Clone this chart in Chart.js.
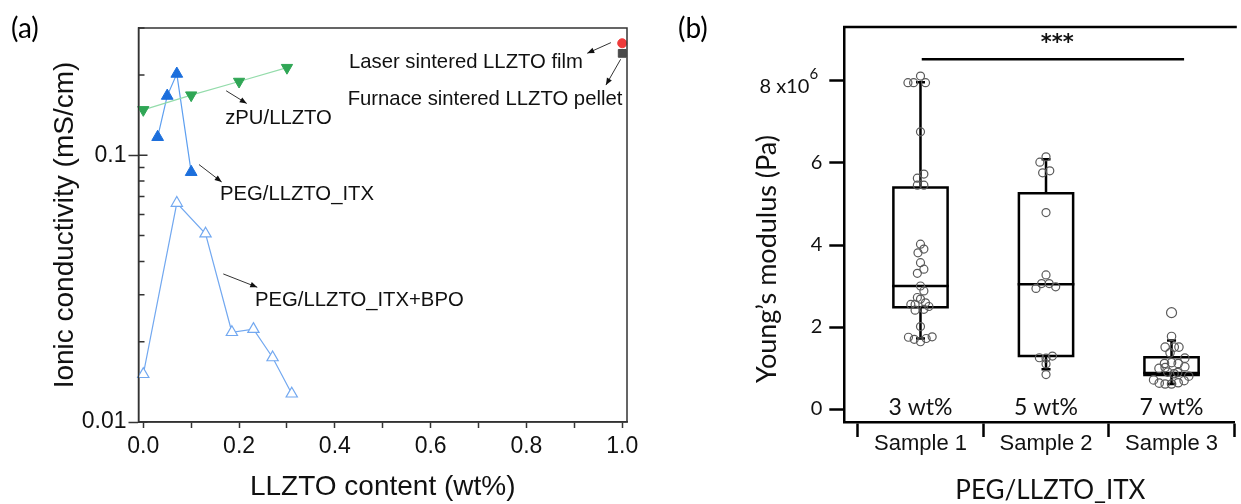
<!DOCTYPE html>
<html><head><meta charset="utf-8">
<script src="https://cdn.jsdelivr.net/npm/chart.js@4"></script>
<style>
html,body{margin:0;padding:0;background:#fff;overflow:hidden;width:1241px;height:504px}
#ca{position:absolute;left:0;top:0}
#cb{position:absolute;left:640px;top:0}
</style></head><body>
<canvas id="ca" width="640" height="504"></canvas>
<canvas id="cb" width="601" height="504"></canvas>
<script>
// ---------- Panel (a) data ----------
const zpuX = [0, 0.1, 0.2, 0.3];
const zpuY = [0.148, 0.168, 0.189, 0.213];
const itxX = [0.03, 0.05, 0.07, 0.10];
const itxY = [0.117, 0.167, 0.202, 0.0865];
const bpoX = [0, 0.07, 0.13, 0.185, 0.23, 0.27, 0.31];
const bpoY = [0.0151, 0.0662, 0.0508, 0.0217, 0.0223, 0.01745, 0.01276];
const laserX = [1.0];
const laserY = [0.263];
const furnaceX = [1.0];
const furnaceY = [0.241];
const xTicksA = [0, 0.1, 0.2, 0.3, 0.4, 0.5, 0.6, 0.7, 0.8, 0.9, 1.0];
const yLabelTicksA = [0.01, 0.1];
const yMinorA = [0.02, 0.03, 0.04, 0.05, 0.06, 0.07, 0.08, 0.09, 0.2, 0.3];
const seriesNamesA = ['zPU/LLZTO', 'PEG/LLZTO_ITX', 'PEG/LLZTO_ITX+BPO', 'Laser sintered LLZTO film', 'Furnace sintered LLZTO pellet'];

// ---------- Panel (b) data ----------
const sampleLabels = ['Sample 1', 'Sample 2', 'Sample 3'];
const loadLabels = ['3 wt%', '5 wt%', '7 wt%'];
const whiskerLow = [1.72, 0.97, 0.61];
const q1 = [2.48, 1.29, 0.83];
const median = [3.00, 3.04, 0.88];
const q3 = [5.40, 5.26, 1.26];
const whiskerHigh = [7.97, 6.09, 1.67];
const sample1X = [0.90,0.945,1.00,1.04,1.00,0.975,1.027,0.975,1.027,1.00,1.027,0.98,1.00,1.027,0.975,1.00,1.027,0.975,1.00,0.923,0.957,1.04,1.067,0.957,1.027,1.00,0.904,0.95,1.00,1.045,1.093];
const sample1Y = [7.96,7.96,8.12,7.96,6.76,5.63,5.73,5.46,5.46,4.02,3.90,3.81,3.57,3.41,3.31,3.00,2.88,2.72,2.68,2.55,2.55,2.59,2.50,2.41,2.43,2.01,1.75,1.70,1.64,1.72,1.76];
const sample2X = [2.00,1.951,2.03,1.973,2.00,2.00,1.965,2.025,1.92,2.077,1.947,2.00,2.051,2.00,2.00];
const sample2Y = [6.15,6.02,5.81,5.76,4.79,3.27,3.06,3.06,2.94,2.98,1.25,1.24,1.29,1.10,0.84];
const sample3X = [3.00,3.00,2.949,3.022,3.059,2.988,3.106,2.944,3.00,3.053,2.90,2.949,3.106,3.049,3.137,2.857,2.902,2.949,3.00,3.053,3.10,2.97,3.02];
const sample3Y = [2.35,1.77,1.51,1.51,1.51,1.37,1.24,1.11,1.13,1.11,0.99,1.01,1.03,0.89,0.80,0.71,0.63,0.61,0.61,0.64,0.69,0.90,0.86];
const yTicksB = [0, 2, 4, 6, 8];
const xTicksB = [0.5, 1, 1.5, 2, 2.5, 3, 3.5];
const sigFrom = 1.01, sigTo = 3.1, sigLevel = 8.53, sigText = '***';

// ---------- helpers ----------
const pts = (xs, ys) => xs.map((x, i) => ({x, y: ys[i]}));
function arrow(ctx, x1, y1, x2, y2) {
  ctx.beginPath(); ctx.moveTo(x1, y1); ctx.lineTo(x2, y2); ctx.stroke();
  const a = Math.atan2(y2 - y1, x2 - x1), L = 7, W = 2.8;
  ctx.beginPath(); ctx.moveTo(x2, y2);
  ctx.lineTo(x2 - L * Math.cos(a) + W * Math.sin(a), y2 - L * Math.sin(a) - W * Math.cos(a));
  ctx.lineTo(x2 - L * Math.cos(a) - W * Math.sin(a), y2 - L * Math.sin(a) + W * Math.cos(a));
  ctx.closePath(); ctx.fill();
}

// annotation placement (data coordinates)
const annotA = [
  {text: seriesNamesA[0], at: [0.171, 0.1377], from: [0.173, 0.1745], to: [0.216, 0.1564]},
  {text: seriesNamesA[1], at: [0.160, 0.0714], from: [0.1163, 0.0923], to: [0.1637, 0.0794]},
  {text: seriesNamesA[2], at: [0.2332, 0.0285], from: [0.167, 0.0359], to: [0.238, 0.032]},
  {text: seriesNamesA[3], at: [0.4294, 0.2237], from: [0.9764, 0.2644], to: [0.927, 0.2412]},
  {text: seriesNamesA[4], at: [0.4267, 0.1623], from: [0.9967, 0.2290], to: [0.966, 0.1833]}
];

const pluginA = {
  id: 'decorA',
  afterDatasetsDraw(chart) {
    const {ctx, chartArea: a, scales: {x, y}} = chart;
    ctx.save();
    ctx.strokeStyle = '#333'; ctx.lineWidth = 1.5;
    ctx.strokeRect(a.left, a.top, a.right - a.left, a.bottom - a.top);
    ctx.beginPath();
    yMinorA.forEach(v => { const p = y.getPixelForValue(v); ctx.moveTo(a.left, p); ctx.lineTo(a.left + 6, p); });
    yLabelTicksA.forEach(v => { const p = y.getPixelForValue(v); ctx.moveTo(a.left, p); ctx.lineTo(a.left + 9, p); });
    ctx.stroke();
    ctx.fillStyle = '#111'; ctx.strokeStyle = '#333'; ctx.lineWidth = 1;
    ctx.font = '20.3px "Liberation Sans", Arial, sans-serif';
    ctx.textBaseline = 'middle'; ctx.textAlign = 'left';
    annotA.forEach(n => {
      ctx.fillText(n.text, x.getPixelForValue(n.at[0]), y.getPixelForValue(n.at[1]));
      arrow(ctx, x.getPixelForValue(n.from[0]), y.getPixelForValue(n.from[1]), x.getPixelForValue(n.to[0]), y.getPixelForValue(n.to[1]));
    });
    ctx.font = '28px Lato, sans-serif';
    ctx.fillStyle = '#000';
    ctx.fillText('(a)', 11, 29);
    ctx.restore();
  }
};

new Chart(document.getElementById('ca'), {
  type: 'scatter',
  data: {datasets: [
    {label: seriesNamesA[3], data: pts(laserX, laserY), pointStyle: 'circle', pointRadius: 4.5, backgroundColor: '#ee3b3b', borderColor: '#ee3b3b', clip: false},
    {label: seriesNamesA[4], data: pts(furnaceX, furnaceY), pointStyle: 'rect', pointRadius: 5.5, backgroundColor: '#4a4a4a', borderColor: '#4a4a4a', clip: false},
    {label: seriesNamesA[0], data: pts(zpuX, zpuY), showLine: true, borderColor: '#94dcab', borderWidth: 1.2,
      pointStyle: 'triangle', rotation: 180, pointRadius: 6.5, pointBackgroundColor: '#2fa655', pointBorderColor: '#2fa655', pointBorderWidth: 1, clip: false},
    {label: seriesNamesA[1], data: pts(itxX, itxY), showLine: true, borderColor: '#5d9ff0', borderWidth: 1.2,
      pointStyle: 'triangle', pointRadius: 6.8, pointBackgroundColor: '#1c6fdc', pointBorderColor: '#1c6fdc', pointBorderWidth: 1, clip: false},
    {label: seriesNamesA[2], data: pts(bpoX, bpoY), showLine: true, borderColor: '#72a8f0', borderWidth: 1.2,
      pointStyle: 'triangle', pointRadius: 6.5, pointBackgroundColor: '#ffffff', pointBorderColor: '#72a8f0', pointBorderWidth: 1.2, clip: false}
  ]},
  options: {
    responsive: false, animation: false, devicePixelRatio: 1,
    layout: {padding: {left: 0, top: 28, right: 13, bottom: 0}},
    plugins: {legend: {display: false}, tooltip: {enabled: false}},
    scales: {
      x: {type: 'linear', min: -0.01, max: 1.01,
        afterBuildTicks: s => { s.ticks = xTicksA.map(v => ({value: v})); },
        afterFit: s => { s.height = 82; s.paddingLeft = 0; s.paddingRight = 0; },
        ticks: {autoSkip: false, maxRotation: 0, padding: 5, color: '#111',
          font: {family: '"Liberation Sans", Arial', size: 23},
          callback: v => (Math.round(v * 10) % 2 === 0 ? v.toFixed(1) : '')},
        grid: {drawOnChartArea: false, tickLength: 6, tickWidth: 1.5, tickColor: '#333'},
        border: {display: true, color: '#333', width: 1.5},
        title: {display: true, text: 'LLZTO content (wt%)', color: '#111', padding: {top: 0, bottom: 0},
          font: {family: '"Liberation Sans", Arial', size: 28}}
      },
      y: {type: 'logarithmic', min: 0.01, max: 0.3,
        afterBuildTicks: s => { s.ticks = yLabelTicksA.map(v => ({value: v})); },
        afterFit: s => { s.width = 138.5; s.paddingTop = 0; s.paddingBottom = 0; },
        ticks: {autoSkip: false, padding: 2, color: '#111',
          font: {family: '"Liberation Sans", Arial', size: 23},
          callback: v => String(v)},
        grid: {drawOnChartArea: false, tickLength: 10, tickWidth: 1.5, tickColor: '#333'},
        border: {display: true, color: '#333', width: 1.5},
        title: {display: true, text: 'Ionic conductivity (mS/cm)', color: '#111', padding: {top: 48, bottom: 0},
          font: {family: '"Liberation Sans", Arial', size: 28}}
      }
    }
  },
  plugins: [pluginA]
});

// ---------- Panel (b) ----------
const HW = 0.216, CW = 0.036;
function boxOutline() {
  const d = [];
  for (let i = 0; i < q1.length; i++) {
    const c = i + 1;
    d.push({x: c - HW, y: q1[i]}, {x: c + HW, y: q1[i]}, {x: c + HW, y: q3[i]}, {x: c - HW, y: q3[i]}, {x: c - HW, y: q1[i]}, {x: c, y: null});
  }
  return d;
}
function medianLines() {
  const d = [];
  for (let i = 0; i < median.length; i++) {
    const c = i + 1;
    d.push({x: c - HW, y: median[i]}, {x: c + HW, y: median[i]}, {x: c, y: null});
  }
  return d;
}
function whiskerLines() {
  const d = [];
  for (let i = 0; i < q1.length; i++) {
    const c = i + 1;
    d.push({x: c, y: q3[i]}, {x: c, y: whiskerHigh[i]}, {x: c, y: null});
    d.push({x: c - CW, y: whiskerHigh[i]}, {x: c + CW, y: whiskerHigh[i]}, {x: c, y: null});
    d.push({x: c, y: q1[i]}, {x: c, y: whiskerLow[i]}, {x: c, y: null});
    d.push({x: c - CW, y: whiskerLow[i]}, {x: c + CW, y: whiskerLow[i]}, {x: c, y: null});
  }
  return d;
}
const lineStyle = {showLine: true, borderColor: '#000', borderWidth: 2.5, pointRadius: 0, borderJoinStyle: 'miter', borderCapStyle: 'square', spanGaps: false, clip: false};
const ptStyle = {pointStyle: 'circle', pointRadius: 4, pointBorderColor: '#5a5a5a', pointBorderWidth: 1.2, pointBackgroundColor: 'rgba(255,255,255,0)', showLine: false, clip: false};

const pluginB = {
  id: 'decorB',
  afterDatasetsDraw(chart) {
    const {ctx, chartArea: a, scales: {x, y}} = chart;
    ctx.save();
    ctx.strokeStyle = '#000'; ctx.lineWidth = 2.5;
    ctx.beginPath(); ctx.moveTo(a.left - 1.25, a.top); ctx.lineTo(a.right + 2, a.top); ctx.stroke();
    ctx.fillStyle = '#111';
    ctx.textAlign = 'center'; ctx.textBaseline = 'alphabetic';
    ctx.font = '23px Lato, sans-serif';
    loadLabels.forEach((t, i) => ctx.fillText(t, x.getPixelForValue(i + 1), y.getPixelForValue(-0.146)));
    ctx.font = 'bold 21px "DejaVu Sans", sans-serif';
    ctx.fillText(sigText, x.getPixelForValue(2.09), y.getPixelForValue(8.78));
    // x axis title
    ctx.font = '26px Lato, sans-serif';
    ctx.textBaseline = 'middle';
    ctx.fillText('PEG/LLZTO_ITX', x.getPixelForValue(2.035), 491);
    // y axis title
    ctx.save();
    ctx.translate(127, 259); ctx.rotate(-Math.PI / 2);
    ctx.font = '27px Lato, sans-serif';
    ctx.fillText('Young\u2019s modulus (Pa)', 0, 0);
    ctx.restore();
    // top tick label with exponent
    const p8 = y.getPixelForValue(8);
    const rx = a.left - 15 - 7;
    ctx.textAlign = 'right'; ctx.textBaseline = 'alphabetic';
    ctx.font = '15px Lato, sans-serif';
    ctx.fillText('6', rx - 4, p8 - 2);
    ctx.font = '20px Lato, sans-serif';
    ctx.fillText('8 x10', rx - 13, p8 + 12);
    ctx.textAlign = 'left'; ctx.textBaseline = 'middle';
    ctx.font = '28px Lato, sans-serif'; ctx.fillStyle = '#000';
    ctx.fillText('(b)', 38, 29);
    ctx.restore();
  }
};

new Chart(document.getElementById('cb'), {
  type: 'scatter',
  data: {datasets: [
    Object.assign({label: sampleLabels[0], data: pts(sample1X, sample1Y)}, ptStyle),
    Object.assign({label: sampleLabels[1], data: pts(sample2X, sample2Y)}, ptStyle),
    Object.assign({label: sampleLabels[2], data: pts(sample3X, sample3Y)}, ptStyle, {pointRadius: ctx => (ctx.raw && ctx.raw.y > 2 ? 5 : 4.2)}),
    Object.assign({label: 'median', data: medianLines()}, lineStyle),
    Object.assign({label: 'whiskers', data: whiskerLines()}, lineStyle, {borderCapStyle: 'butt'}),
    Object.assign({label: 'box', data: boxOutline()}, lineStyle),
    Object.assign({label: 'significance', data: [{x: sigFrom, y: sigLevel}, {x: sigTo, y: sigLevel}]}, lineStyle, {borderCapStyle: 'butt'})
  ]},
  options: {
    responsive: false, animation: false, devicePixelRatio: 1,
    layout: {padding: {left: 0, top: 27, right: 0, bottom: 0}},
    plugins: {legend: {display: false}, tooltip: {enabled: false}},
    scales: {
      x: {type: 'linear', min: 0.393, max: 3.504,
        afterBuildTicks: s => { s.ticks = xTicksB.map(v => ({value: v})); },
        afterFit: s => { s.height = 82; s.paddingLeft = 0; s.paddingRight = 0; },
        ticks: {autoSkip: false, maxRotation: 0, padding: -4, color: '#111',
          font: {family: '"Liberation Sans", Arial', size: 22, lineHeight: 1},
          callback: v => (Number.isInteger(v) ? sampleLabels[v - 1] : '')},
        grid: {drawOnChartArea: false, tickLength: 15, tickWidth: 2.5,
          tickColor: c => (c.tick && Number.isInteger(c.tick.value) ? 'rgba(0,0,0,0)' : '#000')},
        border: {display: true, color: '#000', width: 2.5},
        title: {display: false}
      },
      y: {type: 'linear', min: -0.317, max: 9.317,
        afterBuildTicks: s => { s.ticks = yTicksB.map(v => ({value: v})); },
        afterFit: s => { s.width = 204.3; s.paddingTop = 0; s.paddingBottom = 0; },
        ticks: {autoSkip: false, padding: 7, color: '#111',
          font: {family: 'Lato', size: 20},
          callback: v => (v === 8 ? '' : String(v))},
        grid: {drawOnChartArea: false, tickLength: 15, tickWidth: 2.5, tickColor: '#000'},
        border: {display: true, color: '#000', width: 2.5}
      }
    }
  },
  plugins: [pluginB]
});
</script>
</body></html>
